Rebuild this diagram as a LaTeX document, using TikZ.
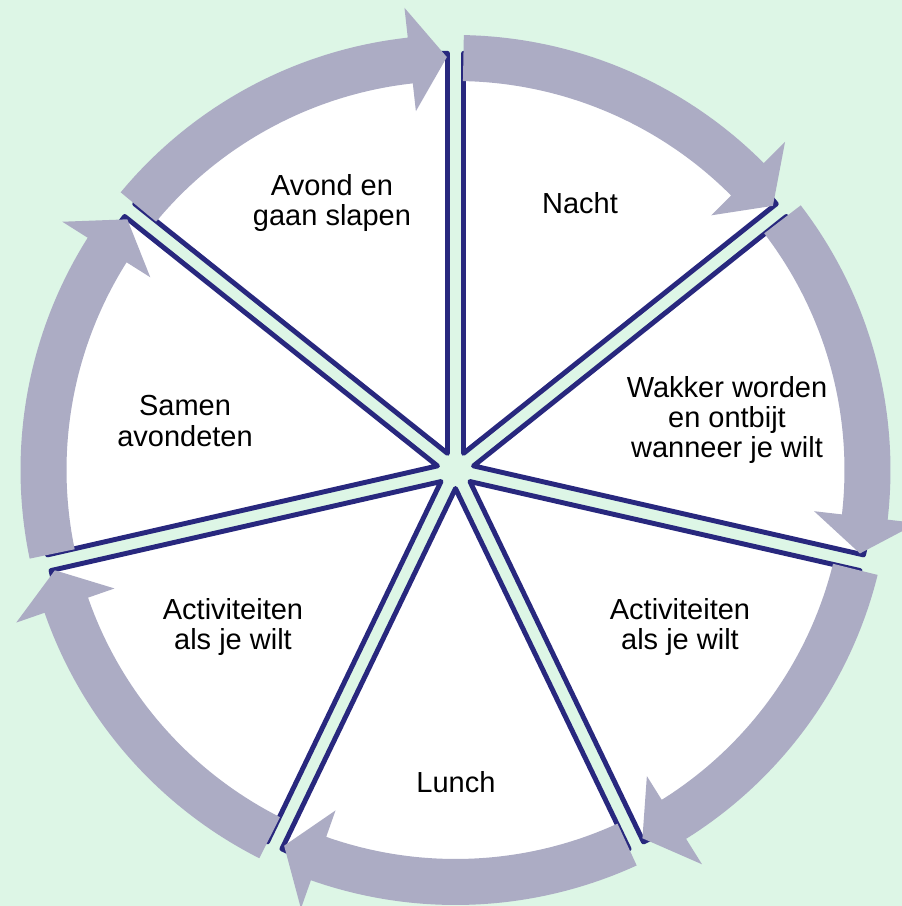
\documentclass[tikz,border=0pt]{standalone}
\usepackage{fontspec}
\setmainfont{Liberation Sans}
\usepackage{tikz}
\usetikzlibrary{positioning}
\definecolor{mintbg}{RGB}{221,246,230}
\definecolor{ringgray}{RGB}{172,172,196}
\definecolor{navyline}{RGB}{40,40,126}

\begin{document}
\begin{tikzpicture}[
        wedge/.style={draw=navyline,fill=white,line width=2.8pt,line join=round},
        ringarrow/.style={fill=ringgray},
        lbl/.style={font=\fontsize{16.5}{17.3}\selectfont,align=center}
      ]
      \path[use as bounding box] (-9.11,-8.72) rectangle (8.93,9.4);
      \clip (-9.11,-8.72) rectangle (8.93,9.4);
      \fill[mintbg] (-9.11,-8.72) rectangle (8.93,9.4);

      % the seven day parts
      \foreach \k in {0,...,6}{
        \pgfmathsetmacro{\sa}{90-\k*360/7}
        \pgfmathsetmacro{\ea}{\sa-360/7}
        \pgfmathsetmacro{\ma}{\sa-180/7}
        \draw[wedge] (\ma:0.37) -- +(\sa:8) arc[start angle=\sa,end angle=\ea,radius=8] -- cycle;
      }

      % clockwise arrows round the edge
      \foreach \k in {0,...,6}{
        \pgfmathsetmacro{\sa}{90-\k*360/7-1.1}
        \pgfmathsetmacro{\ba}{90-(\k+1)*360/7+6.3}
        \pgfmathsetmacro{\ta}{90-(\k+1)*360/7+1.2}
        \fill[ringarrow] (\sa:8.7) arc[start angle=\sa,end angle=\ba,radius=8.7]
          -- (\ba:9.3) -- (\ta:8.26) -- (\ba:7.22) -- (\ba:7.78)
          arc[start angle=\ba,end angle=\sa,radius=7.78] -- cycle;
      }

      \node[lbl] (avond) at (-2.47,5.34) {Avond en\\gaan slapen};
      \node[lbl] (nacht) at (2.49,5.34) {Nacht};
      \node[lbl] (wakker) at (5.43,1.0) {Wakker worden\\en ontbijt\\wanneer je wilt};
      \node[lbl] (actright) at (4.49,-3.14) {Activiteiten\\als je wilt};
      \node[lbl] (lunch) at (0.01,-6.24) {Lunch};
      \node[lbl] (actleft) at (-4.45,-3.14) {Activiteiten\\als je wilt};
      \node[lbl] (samen) at (-5.41,0.98) {Samen\\avondeten};
    \end{tikzpicture}
\end{document}
